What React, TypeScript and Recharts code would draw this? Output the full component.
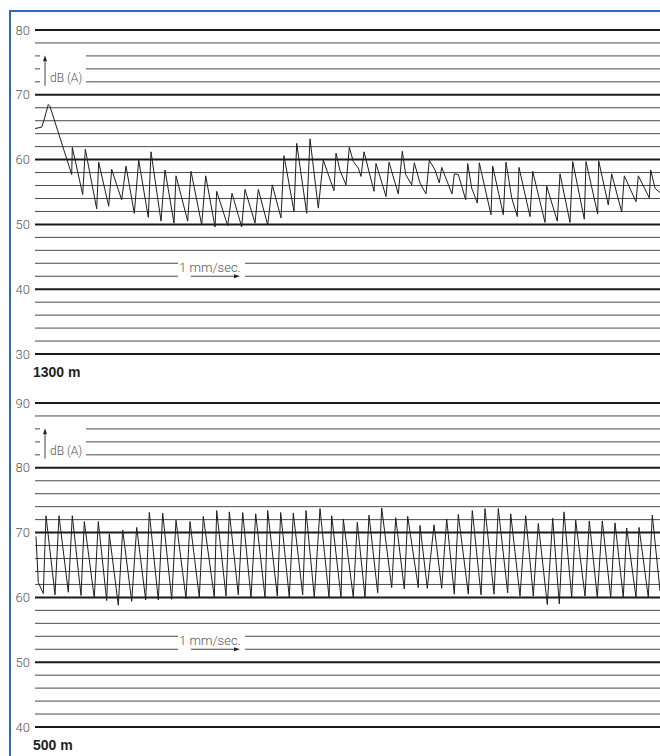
import { LineChart, Line, XAxis, YAxis, ReferenceLine, ReferenceDot } from 'recharts';

// level recordings, [time (paper position), dB(A)]
const trace1300: [number, number][] = [
  [35, 64.8], [41.7, 65.0], [44, 66.1], [48.3, 68.5], [50, 68.2], [71.7, 57.7], [72.3, 61.9],
  [82.7, 54.6], [85.3, 61.6], [96.7, 52.4], [98.7, 59.6], [108.7, 52.8], [111.7, 58.5],
  [116.7, 56.1], [121.7, 53.8], [126, 59.0], [134.3, 51.7], [138.7, 59.9], [148.3, 51.1],
  [151, 61.2], [161, 50.5], [165, 58.4], [174, 50.2], [176, 57.5], [187.7, 50.5], [191, 58.2],
  [201.7, 49.9], [205.7, 57.5], [215, 49.6], [216.7, 55.1], [227.7, 49.8], [232, 54.8],
  [241.7, 49.6], [245, 55.4], [255, 50.2], [258.3, 55.4], [267.7, 49.9], [272.3, 56.1],
  [281, 51.0], [284, 60.6], [294, 52.0], [296.7, 62.5], [306.7, 51.7], [310, 63.2],
  [318.3, 52.5], [323.3, 59.9], [334, 55.2], [336, 61.0], [340, 58.3], [346, 56.1],
  [349.3, 61.9], [353.3, 59.7], [358.3, 58.7], [361, 57.4], [364, 61.2], [374, 55.1],
  [376, 59.4], [386, 54.3], [389, 59.6], [398.3, 54.7], [402.3, 61.3], [405.7, 57.7],
  [411.7, 56.1], [414.3, 59.5], [420, 56.4], [426, 54.7], [429.3, 59.9], [435, 58.4],
  [439.3, 56.4], [441.7, 58.8], [452, 54.7], [454.3, 57.8], [458.3, 57.7], [465.7, 53.8],
  [467.7, 59.4], [471.7, 55.6], [477.3, 53.3], [479.3, 59.5], [491, 51.5], [492.7, 59.0],
  [503.3, 51.5], [506, 59.6], [511.7, 54.1], [517.3, 51.2], [519, 58.8], [530, 51.2],
  [532.7, 58.2], [545, 50.3], [546.7, 55.9], [557.3, 50.5], [560, 57.8], [570, 50.3],
  [572.7, 59.7], [584.3, 50.8], [586, 59.7], [597.7, 51.6], [598.7, 59.8], [608.3, 53.0],
  [611.7, 57.8], [621.7, 51.9], [624.3, 57.5], [636, 53.5], [638.3, 57.5], [649.3, 54.1],
  [650.7, 58.4], [655, 55.6], [660, 54.9],
];

const trace500: [number, number][] = [
  [36, 69.4], [38.3, 62.3], [43.3, 60.6], [46, 72.6], [55, 60.4], [59, 72.6], [68.3, 60.8],
  [72.3, 72.6], [81, 60.3], [84.3, 71.7], [94.3, 59.9], [98.3, 71.7], [106.7, 59.5],
  [109.3, 69.8], [118.3, 58.8], [122.7, 70.4], [131.7, 59.4], [136.7, 70.8], [145.7, 59.6],
  [149.3, 73.1], [158.3, 59.6], [162.7, 73.0], [171.7, 59.7], [176, 71.9], [186, 59.8],
  [190, 71.7], [199.3, 60.0], [203.3, 72.5], [214.3, 60.0], [216.7, 73.4], [226, 60.2],
  [229.3, 73.2], [238.3, 60.4], [242.7, 73.1], [251, 60.0], [255.7, 72.9], [265, 60.0],
  [267.7, 73.4], [277.3, 60.2], [280.7, 73.1], [289.3, 60.0], [293.3, 73.0], [302.7, 60.4],
  [306, 73.4], [314.3, 60.0], [320, 73.7], [329, 60.0], [331.7, 72.6], [341, 60.0],
  [343.3, 72.1], [353.3, 60.0], [357.3, 71.6], [365, 60.0], [369, 72.7], [377.7, 60.7],
  [381.7, 73.8], [391.7, 61.5], [395.7, 72.3], [404.3, 61.3], [407.7, 72.5], [418.3, 61.5],
  [420, 71.1], [427.3, 61.4], [434, 71.2], [441.7, 61.4], [446.7, 72.1], [454.3, 60.5],
  [458.3, 72.8], [468.3, 60.5], [472.3, 73.4], [481, 60.4], [485, 73.7], [494, 60.5],
  [498.3, 73.7], [507.7, 60.7], [510.7, 72.9], [520, 60.2], [525.7, 72.6], [533.3, 60.2],
  [538.3, 71.4], [547.3, 58.9], [552.7, 72.2], [559.3, 59.0], [564, 73.2], [571.7, 60.0],
  [575.7, 71.9], [585, 60.2], [589.3, 71.8], [597.3, 60.0], [602.3, 71.8], [610.7, 60.0],
  [615, 71.5], [623.3, 60.0], [626.7, 70.7], [636, 60.0], [639, 70.8], [648.3, 60.0],
  [652.3, 72.7], [660, 61.0],
];

const ticks1300 = [30, 40, 50, 60, 70, 80];
const ticks500 = [40, 50, 60, 70, 80, 90];

const T_MIN = 35;
const T_MAX = 660;
const FONT = 'Roboto, "Liberation Sans", Arial, sans-serif';

function Arrow(props: any) {
  const { x1, y1, x2, y2 } = props;
  const dx = x2 - x1;
  const dy = y2 - y1;
  const len = Math.sqrt(dx * dx + dy * dy) || 1;
  const ux = dx / len;
  const uy = dy / len;
  const hl = 6;
  const hw = 2;
  const bx = x2 - ux * hl;
  const by = y2 - uy * hl;
  return (
    <g>
      <line x1={x1} y1={y1} x2={bx} y2={by} stroke="#444" strokeWidth={1} />
      <polygon
        points={`${x2},${y2} ${bx - uy * hw},${by + ux * hw} ${bx + uy * hw},${by - ux * hw}`}
        fill="#222"
      />
    </g>
  );
}

const noteStyle = {
  position: 'right' as const,
  offset: 0,
  fill: '#555',
  stroke: 'none',
  fontFamily: FONT,
  fontWeight: 300,
};

function Panel({ trace, ticks, label }: { trace: [number, number][]; ticks: number[]; label: string }) {
  const lo = ticks[0];
  const hi = ticks[ticks.length - 1];
  const data = trace.map(([t, db]) => ({ t, db }));
  const levels: number[] = [];
  for (let v = lo; v <= hi; v += 2) levels.push(v);

  // gridlines broken for the dB (A) marker and the paper speed note
  const dbGap = [hi - 8, hi - 6, hi - 4];
  const speedGap = [lo + 12, lo + 14];

  const segs: { v: number; a: number; b: number }[] = [];
  levels.forEach((v) => {
    if (dbGap.includes(v)) {
      segs.push({ v, a: T_MIN, b: 40 }, { v, a: 86, b: T_MAX });
    } else if (speedGap.includes(v)) {
      segs.push({ v, a: T_MIN, b: 178 }, { v, a: 245, b: T_MAX });
    } else {
      segs.push({ v, a: T_MIN, b: T_MAX });
    }
  });

  return (
    <div style={{ position: 'relative', width: 660, height: 380 }}>
      <LineChart width={660} height={380} data={data} margin={{ top: 30, right: 0, bottom: 26, left: 0 }}>
        <XAxis dataKey="t" type="number" domain={[T_MIN, T_MAX]} hide />
        <YAxis
          type="number"
          domain={[lo, hi]}
          ticks={ticks}
          interval={0}
          width={35}
          axisLine={false}
          tickLine={false}
          tickSize={3}
          tickMargin={2}
          tick={{ fill: '#555', fontSize: 13, fontFamily: FONT, fontWeight: 300 }}
        />
        {segs.map((s, i) => (
          <ReferenceLine
            key={`g-${i}`}
            segment={[{ x: s.a, y: s.v }, { x: s.b, y: s.v }]}
            stroke={s.v % 10 === 0 ? '#1a1a1a' : '#4a4a4a'}
            strokeWidth={s.v % 10 === 0 ? 2 : 1}
          />
        ))}
        <ReferenceLine
          segment={[{ x: 45, y: hi - 8.6 }, { x: 45, y: hi - 3.9 }]}
          shape={(p: any) => <Arrow {...p} />}
        />
        <ReferenceLine
          segment={[{ x: 191, y: lo + 12 }, { x: 240, y: lo + 12 }]}
          shape={(p: any) => <Arrow {...p} />}
        />
        <ReferenceDot
          x={50}
          y={hi - 7.3}
          r={0}
          stroke="none"
          label={{ ...noteStyle, value: 'dB (A)', fontSize: 12 }}
        />
        <ReferenceDot
          x={179}
          y={lo + 13.4}
          r={0}
          stroke="none"
          label={{ ...noteStyle, value: '1 mm/sec.', fontSize: 13 }}
        />
        <Line
          dataKey="db"
          type="linear"
          stroke="#1e1e1e"
          strokeWidth={1}
          dot={false}
          isAnimationActive={false}
        />
      </LineChart>
      <div
        style={{
          position: 'absolute',
          left: 33,
          top: 365,
          fontFamily: '"Liberation Sans", Arial, sans-serif',
          fontWeight: 'bold',
          fontSize: 14,
          lineHeight: '14px',
          color: '#222',
        }}
      >
        {label}
      </div>
    </div>
  );
}

export default function App() {
  return (
    <div
      style={{
        position: 'absolute',
        left: 0,
        top: 0,
        width: 660,
        height: 756,
        background: '#fff',
        overflow: 'hidden',
      }}
    >
      <div
        style={{
          position: 'absolute',
          left: 9,
          top: 10,
          width: 700,
          height: 800,
          borderLeft: '2px solid #2d6db5',
          borderTop: '2px solid #2d6db5',
        }}
      />
      <div style={{ position: 'absolute', left: 0, top: 0 }}>
        <Panel trace={trace1300} ticks={ticks1300} label="1300 m" />
      </div>
      <div style={{ position: 'absolute', left: 0, top: 373 }}>
        <Panel trace={trace500} ticks={ticks500} label="500 m" />
      </div>
    </div>
  );
}
